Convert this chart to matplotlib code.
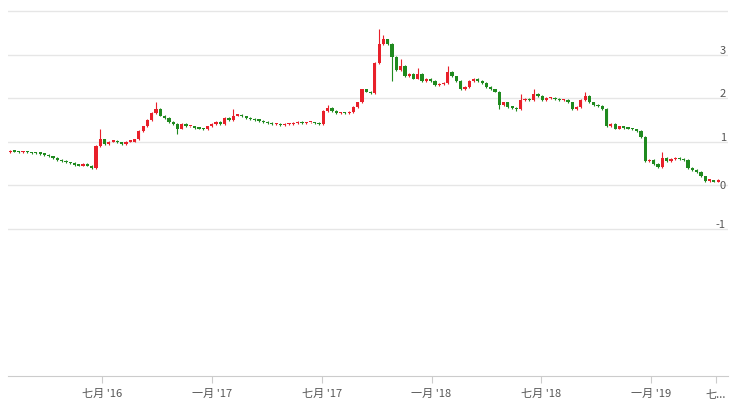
import numpy as np
import matplotlib
matplotlib.use("Agg")
import matplotlib.pyplot as plt

plt.rcParams['font.family'] = ['Noto Sans CJK SC', 'DejaVu Sans']

# weekly closes
closes = [0.78, 0.77, 0.76, 0.76, 0.75, 0.74, 0.73, 0.72, 0.70,
          0.66, 0.62, 0.58, 0.55, 0.52, 0.50, 0.47, 0.45, 0.48, 0.45, 0.40,
          0.90, 1.05,
          0.95, 1.00, 1.02, 0.98, 0.95, 1.00, 1.00, 1.05,
          1.25, 1.35, 1.50, 1.65, 1.75, 1.60,
          1.55, 1.45, 1.40, 1.30, 1.40, 1.35, 1.35,
          1.32, 1.30, 1.28, 1.35, 1.40, 1.45, 1.40, 1.55,
          1.50, 1.60, 1.62, 1.58, 1.55, 1.52,
          1.50, 1.48, 1.45, 1.43, 1.40, 1.40, 1.38, 1.40,
          1.40, 1.42, 1.45, 1.42, 1.44, 1.44, 1.42, 1.40,
          1.70, 1.78, 1.70, 1.65, 1.66, 1.65, 1.68,
          1.80, 1.90, 2.20, 2.15, 2.12,
          2.80, 3.25, 3.35, 3.25, 2.95, 2.65, 2.75, 2.50, 2.55, 2.45,
          2.55, 2.40, 2.45, 2.40, 2.30, 2.32, 2.35, 2.60, 2.50, 2.40,
          2.20, 2.25, 2.40, 2.45, 2.40, 2.35, 2.25, 2.20, 2.15, 1.85,
          1.90, 1.80, 1.78, 1.75, 1.95, 1.98, 1.95, 2.10, 2.05, 1.95,
          2.00, 2.00, 1.98, 1.95, 1.95, 1.90, 1.75, 1.80, 1.95, 2.05,
          1.90, 1.85, 1.82, 1.75, 1.35, 1.40, 1.30, 1.35, 1.32, 1.30,
          1.28, 1.25, 1.10, 0.55, 0.58, 0.48, 0.42, 0.62, 0.55, 0.60,
          0.62, 0.60, 0.58, 0.40, 0.35, 0.30, 0.20, 0.10, 0.10, 0.08, 0.12]
first_open = 0.76
# long upper wicks visible on the chart (index: high)
spikes = {21: 1.30, 34: 1.90, 52: 1.75, 74: 1.85, 86: 3.60, 87: 3.45, 91: 2.90,
          95: 2.70, 102: 2.75, 119: 2.10, 122: 2.20, 134: 2.15, 152: 0.75}
dips = {39: 1.18, 89: 2.40, 114: 1.75, 118: 1.70}

tick_pos = [21.4 + 25.6 * k for k in range(6)] + [164.5]
tick_labels = ["七月 '16", "一月 '17", "七月 '17", "一月 '18", "七月 '18", "一月 '19", "七..."]

opens = [first_open] + closes[:-1]
fig = plt.figure(figsize=(7.4, 4.14), dpi=100)
ax = fig.add_axes([8 / 740, 37 / 414, 720 / 740, 377 / 414])
ax.set_xlim(-0.5, 167.3)
ax.set_ylim(-4.39, 4.28)

for v in [-1, 0, 1, 2, 3, 4]:
    ax.axhline(v, color='#e6e6e6', lw=1, zorder=0)
    if v < 4:
        ax.text(166.8, v, str(v), ha='right', va='bottom' if v != 0 else 'center',
                fontsize=8, color='#555555')

for i, (o, c) in enumerate(zip(opens, closes)):
    col = '#e8202a' if c >= o else '#1f8a1f'
    hi = spikes.get(i, max(o, c) + 0.02)
    lo = dips.get(i, min(o, c) - 0.02)
    ax.vlines(i, lo, hi, color=col, lw=0.8, zorder=2)
    h = max(abs(c - o), 0.03)
    ax.bar(i, h, bottom=min(o, c), width=0.75, color=col, zorder=3)

for s in ['top', 'right', 'left']:
    ax.spines[s].set_visible(False)
ax.spines['bottom'].set_color('#cccccc')
ax.set_yticks([])
ax.set_xticks(tick_pos)
ax.set_xticklabels(tick_labels, fontsize=8, color='#555555')
ax.tick_params(axis='x', length=5, color='#cccccc')

fig.savefig('out.png', dpi=100)
